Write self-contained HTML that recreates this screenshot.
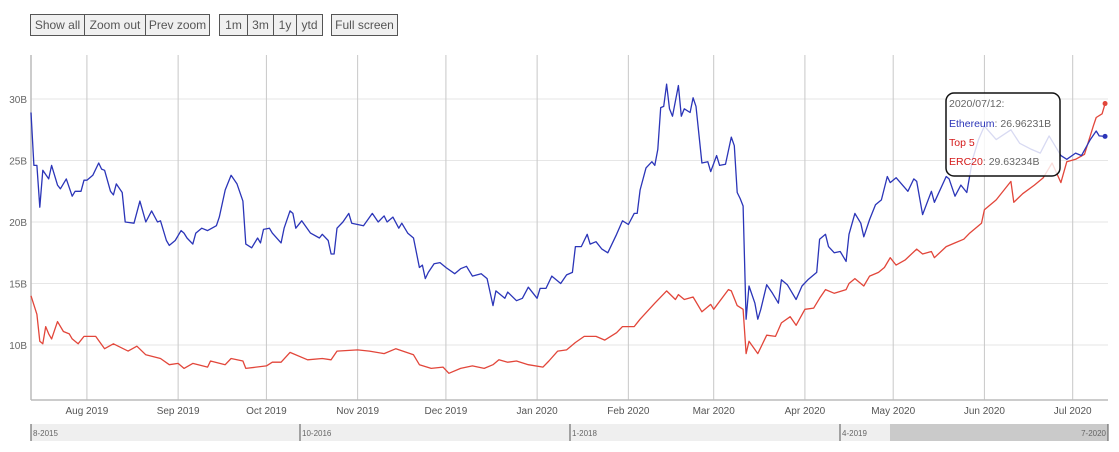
<!DOCTYPE html>
<html><head><meta charset="utf-8">
<style>
body{margin:0;background:#fff;font-family:"Liberation Sans",sans-serif;}
#wrap{position:relative;width:1119px;height:452px;overflow:hidden;}
.btn{position:absolute;top:14px;height:20px;line-height:20px;font-size:12px;color:#555;background:#f0f0f0;border:1px solid #555;text-align:center;box-sizing:content-box;}
svg{position:absolute;left:0;top:0;}
</style></head><body>
<div id="wrap">
<div class="btn" style="left:30px;width:53px">Show all</div>
<div class="btn" style="left:84px;width:60px">Zoom out</div>
<div class="btn" style="left:145px;width:63px">Prev zoom</div>
<div class="btn" style="left:219px;width:27px">1m</div>
<div class="btn" style="left:247px;width:25px">3m</div>
<div class="btn" style="left:273px;width:22px">1y</div>
<div class="btn" style="left:296px;width:25px">ytd</div>
<div class="btn" style="left:331px;width:65px">Full screen</div>
<svg id="chart" width="1119" height="452"></svg>
</div>
<script>
const yTicks=[10,15,20,25,30];
const monthLabels=["Aug 2019","Sep 2019","Oct 2019","Nov 2019","Dec 2019","Jan 2020","Feb 2020","Mar 2020","Apr 2020","May 2020","Jun 2020","Jul 2020"];
const monthDays=[19,50,80,111,141,172,203,232,263,293,324,354];
const navLabels=["8-2015","10-2016","1-2018","4-2019","7-2020"];
const ethDays=[0,1,2,3,4,6,7,9,10,12,14,15,17,18,19,21,23,24,25,27,28,29,31,32,35,37,39,41,43,44,46,47,49,51,52,53,55,56,58,60,63,64,66,68,70,72,73,75,77,78,79,81,82,85,86,88,89,90,92,95,98,99,101,102,103,104,106,108,109,113,116,118,120,121,123,125,126,128,130,132,133,134,135,137,139,141,144,146,148,150,153,155,157,158,161,162,165,167,169,172,
173,175,177,180,182,184,185,187,189,190,192,194,196,199,201,203,205,206,207,209,211,212,213,214,215,216,217,218,220,221,222,224,225,226,228,230,231,233,234,236,238,239,240,241,242,243,244,246,247,248,250,252,254,255,257,258,260,262,264,266,267,268,270,271,273,275,277,278,280,282,283,285,287,289,291,292,294,298,300,301,303,306,307,311,312,314,316,318,320,322,324,328,333,336,340,343,346,350,352,355,357,360,362,363,365];
const ethValues=[28.9,24.6,24.6,21.2,24.2,23.5,24.6,23.0,22.7,23.5,22.1,22.5,22.5,23.4,23.4,23.8,24.8,24.3,24.2,22.5,22.2,23.1,22.4,20.0,19.9,21.7,20.0,20.9,20.0,20.1,18.5,18.1,18.5,19.3,19.1,18.7,18.2,19.1,19.5,19.3,19.7,20.4,22.6,23.8,23.1,21.7,18.2,17.9,18.7,18.3,19.4,19.5,19.1,18.3,19.5,20.9,20.7,19.5,20.1,19.1,18.7,19.0,18.5,17.4,17.4,19.5,20.0,20.7,19.9,19.7,20.7,20.0,20.5,20.0,20.4,19.5,19.9,19.1,18.7,16.3,16.5,15.4,15.9,16.6,16.7,16.3,15.8,16.2,16.4,15.6,15.8,15.4,13.2,14.4,13.8,14.3,13.6,13.8,14.7,13.8,
14.6,14.6,15.6,15.0,15.7,15.9,18.0,18.0,19.0,18.2,18.4,17.8,17.5,19.0,20.1,19.8,20.7,20.7,22.6,24.4,24.9,24.6,25.9,29.3,29.4,31.2,29.2,28.6,31.1,28.6,29.2,28.9,30.1,29.4,24.8,24.9,24.1,25.4,24.6,24.7,26.9,26.2,22.4,21.9,21.3,12.1,14.8,13.4,12.1,12.9,14.9,14.2,13.4,15.3,14.9,14.5,13.7,14.8,15.3,15.7,15.9,18.6,19.0,18.0,17.5,17.6,16.8,19.0,20.7,19.9,18.8,20.2,21.4,21.8,23.7,23.2,23.6,22.5,23.5,23.3,20.6,22.5,21.6,23.7,23.5,22.1,23.0,22.4,25.1,26.7,27.8,26.7,27.5,26.4,25.9,25.6,27.0,25.4,25.1,25.6,25.4,26.7,27.4,27.0,26.96];
const ercDays=[0,2,3,4,5,6,7,9,11,13,14,16,18,22,25,28,33,36,39,44,47,50,52,55,60,61,66,68,72,73,80,82,85,88,94,99,102,104,111,115,120,124,130,132,136,140,142,146,150,154,157,159,162,165,169,
174,176,179,182,185,188,192,195,199,201,205,207,212,216,219,220,222,225,228,231,232,237,238,240,242,243,244,247,250,253,255,258,260,263,266,268,270,273,277,278,280,283,285,288,290,292,294,297,301,303,306,307,311,314,317,319,323,324,328,333,334,337,341,344,347,350,352,355,358,361,362,364,365];
const ercValues=[14.0,12.5,10.3,10.1,11.5,10.9,10.5,11.9,11.1,10.9,10.5,10.1,10.7,10.7,9.7,10.1,9.5,9.9,9.2,8.9,8.4,8.5,8.1,8.5,8.2,8.7,8.4,8.9,8.7,8.1,8.3,8.6,8.6,9.4,8.8,8.9,8.8,9.5,9.6,9.5,9.3,9.7,9.2,8.4,8.1,8.2,7.7,8.1,8.3,8.1,8.4,8.8,8.6,8.7,8.4,
8.2,8.7,9.5,9.6,10.2,10.7,10.7,10.4,11.0,11.5,11.5,12.1,13.4,14.4,13.7,14.1,13.7,13.9,12.7,13.3,12.9,14.5,14.4,13.2,12.9,9.3,10.3,9.3,10.8,10.7,11.8,12.3,11.6,12.9,13.0,13.8,14.5,14.2,14.5,15.0,15.4,14.8,15.6,15.9,16.3,17.1,16.5,16.9,17.8,17.4,17.6,17.1,18.0,18.3,18.6,19.1,19.9,21.0,21.8,23.3,21.6,22.3,23.0,23.6,24.8,23.2,24.9,25.1,25.5,27.8,28.5,28.8,29.63];

const NS="http://www.w3.org/2000/svg";
const svg=document.getElementById('chart');
const X0=31,X1=1108,DAYS=366,TOP=55,BOT=400;
function xScale(d){return X0+(X1-X0)*d/DAYS;}
function yScale(v){return 99+(30-v)*12.3;}
function mk(tag,attrs,parent){const e=document.createElementNS(NS,tag);for(const k in attrs)e.setAttribute(k,attrs[k]);(parent||svg).appendChild(e);return e;}

yTicks.forEach(t=>{
  const g=mk('line',{x1:X0,x2:X1,y1:yScale(t),y2:yScale(t),stroke:'#e6e6e6','stroke-width':1});
  
  
  const l=mk('text',{x:27,y:yScale(t)+4,'text-anchor':'end','font-size':10,fill:'#666'});
  l.textContent=t+'B';
  
  
});
monthDays.forEach((d,i)=>{
  const g=mk('line',{x1:xScale(d),x2:xScale(d),y1:TOP,y2:BOT,stroke:'#c8c8c8','stroke-width':1});
  
  
  const l=mk('text',{x:xScale(d),y:414,'text-anchor':'middle','font-size':10,fill:'#555'});
  l.textContent=monthLabels[i];
  
  
});
const ax=mk('line',{x1:X0,x2:X0,y1:TOP,y2:BOT,stroke:'#bbb','stroke-width':1.5});


const bx=mk('line',{x1:X0,x2:X1,y1:BOT,y2:BOT,stroke:'#bbb','stroke-width':1.5});



function series(days,vals,color,name){
  const pts=days.map((d,i)=>xScale(d).toFixed(1)+','+yScale(vals[i]).toFixed(1)).join(' ');
  const p=mk('polyline',{points:pts,fill:'none',stroke:color,'stroke-width':1.3,'stroke-linejoin':'round'});
  
  
  const n=days.length-1;
  const c=mk('circle',{cx:xScale(days[n]),cy:yScale(vals[n]),r:2.5,fill:color});
  
  
}
series(ercDays,ercValues,'#e2463a','erc20-line');
series(ethDays,ethValues,'#2b35b8','ethereum-line');

const nav=mk('rect',{x:X0,y:424,width:X1-X0,height:17,fill:'#efefef'});


const sel=mk('rect',{x:890,y:424,width:X1-890,height:17,fill:'#cacaca'});


const navX=[31,300,570,840,1108];
navLabels.forEach((t,i)=>{
  const ln=mk('line',{x1:navX[i],x2:navX[i],y1:424,y2:441,stroke:'#555','stroke-width':1});
  
  
  const last=i===navLabels.length-1;
  const l=mk('text',{x:last?navX[i]-2:navX[i]+2,y:436,'text-anchor':last?'end':'start','font-size':8,fill:'#666'});
  l.textContent=t;
  
  
});

const tg=mk('g',{});


mk('rect',{x:946,y:93,width:114,height:83,rx:8,fill:'#fff','fill-opacity':0.82,stroke:'#111','stroke-width':1.5},tg);
function tl(y,parts){const t=mk('text',{x:949,y:y,'font-size':10.5},tg);parts.forEach(p=>{const s=mk('tspan',{fill:p[1]},t);s.textContent=p[0];});return t;}
tl(107,[['2020/07/12:','#666']]);
tl(127,[['Ethereum','#2b35b8'],[': 26.96231B','#666']]);
tl(146,[['Top 5','#d41a1a']]);
tl(165,[['ERC20','#d41a1a'],[': 29.63234B','#666']]);
</script>
</body></html>
